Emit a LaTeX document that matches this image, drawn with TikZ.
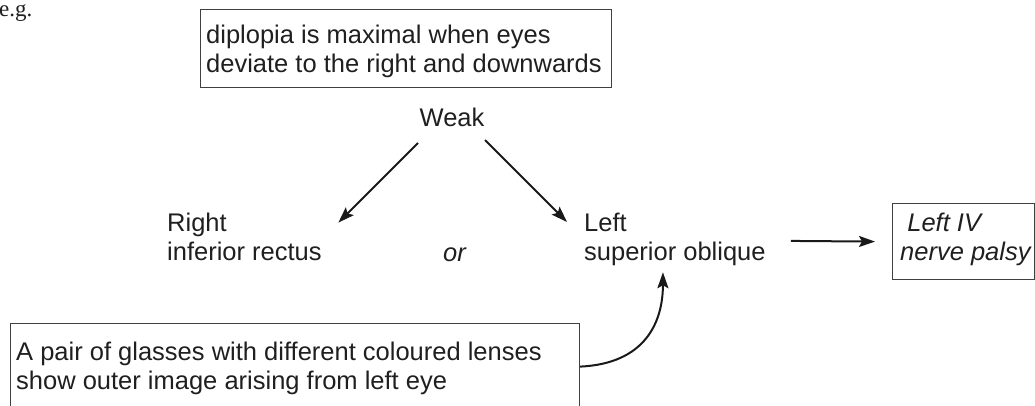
\documentclass[tikz,border=0pt]{standalone}
\usepackage{fontspec}
\setmainfont{Liberation Sans}
\newfontfamily\egfont{Liberation Serif}
\usetikzlibrary{arrows.meta}
\tikzset{
  arr/.style={line width=2pt, draw=black!90, -{Stealth[length=16pt,width=11pt,inset=3pt]}},
  framebox/.style={draw=black!75, line width=1.2pt, inner sep=0pt, anchor=north west},
  txt/.style={font=\fontsize{25.5}{29.5}\selectfont, text=black!88, inner sep=0pt, align=left, anchor=north west},
}
\begin{document}
\begin{tikzpicture}[x=1pt,y=-1pt]
\useasboundingbox (0,0) rectangle (1035,406);
% e.g.
\node[font=\egfont\fontsize{23}{26}\selectfont, text=black!88, inner sep=0pt, anchor=base west] (eg) at (-1,17) {e.g.};
% top box
\node[framebox, minimum width=411pt, minimum height=78pt] (topbox) at (200,9) {};
\node[txt] (toptext) at (206,24.6) {diplopia is maximal when eyes\\deviate to the right and downwards};
% Weak
\node[font=\fontsize{25.5}{29.5}\selectfont, text=black!88, inner sep=0pt, anchor=base] (weak) at (452,127) {Weak};
% muscles
\node[txt] (rir) at (167,212.6) {Right\\inferior rectus};
\node[font=\fontsize{25.5}{29.5}\selectfont\itshape, text=black!88, inner sep=0pt, anchor=base west] (or) at (443,261) {or};
\node[txt] (lso) at (584,212.6) {Left\\superior oblique};
% result box
\node[framebox, minimum width=142pt, minimum height=76pt] (lbox) at (892,203) {};
\node[txt, font=\fontsize{25.5}{29.5}\selectfont\itshape] (lboxtext) at (900,212.6) {\hspace*{0.28em}Left IV\\nerve palsy};
% glasses box
\node[framebox, minimum width=569pt, minimum height=86pt] (gbox) at (10,323) {};
\node[txt] (gtext) at (16,341.6) {A pair of glasses with different coloured lenses\\show outer image arising from left eye};
% connectors
\draw[arr] ([shift={(-34,16)}]weak.base) -- ([shift={(16.5,10)}]rir.north east);
\draw[arr] ([shift={(33,13)}]weak.base) -- ([shift={(-17,9.4)}]lso.north west);
\draw[arr] ([shift={(25,1.5)}]lso.east) -- ([shift={(-17,0)}]lbox.west);
\draw[arr] (gbox.east) .. controls +(65,-3) and +(0,50) .. ([shift={(-12,6)}]lso.south);
\end{tikzpicture}
\end{document}
